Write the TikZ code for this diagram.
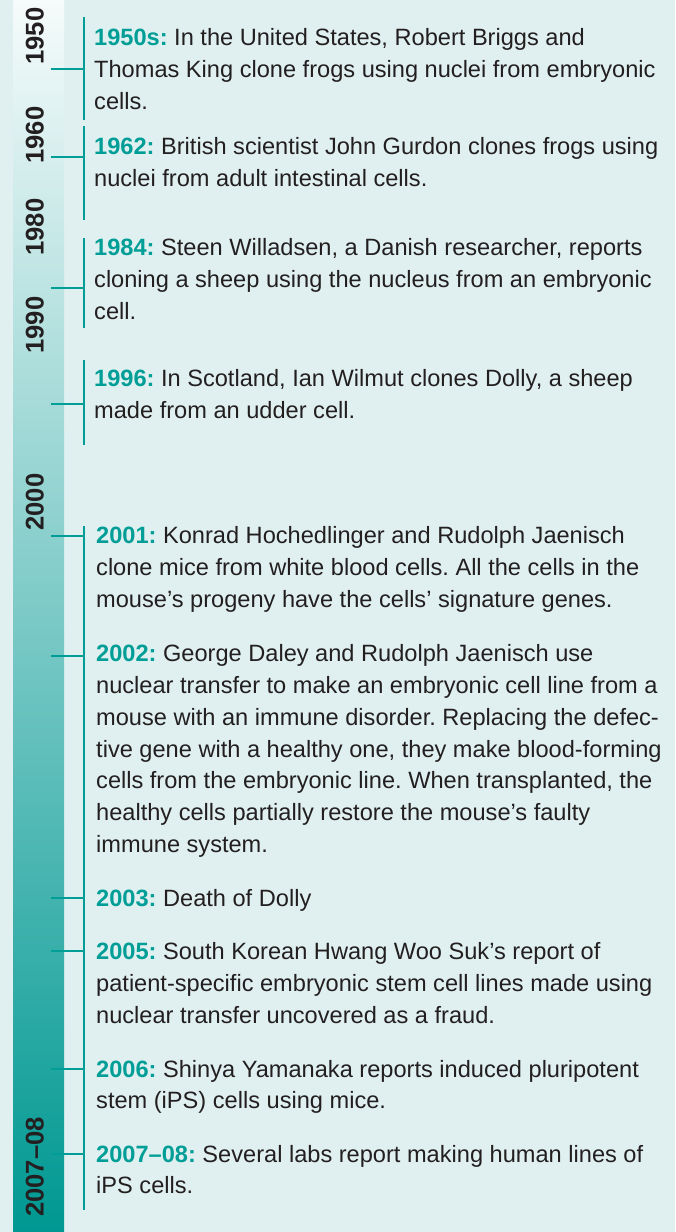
\documentclass[tikz,border=0pt]{standalone}
\usepackage{fontspec}
\setmainfont{Liberation Sans}
\frenchspacing
\definecolor{bg}{RGB}{224,240,240}
\definecolor{teal1}{RGB}{0,158,150}
\definecolor{ink}{RGB}{35,31,32}
\definecolor{bartop}{RGB}{246,251,251}
\definecolor{barmid}{RGB}{118,198,195}
\definecolor{barbot}{RGB}{0,152,146}
\tikzset{
  txt/.style={anchor=base west, inner sep=0pt, font=\fontsize{23.6}{32}\selectfont, text=ink},
  yearlbl/.style={anchor=base, rotate=90, inner sep=0pt, font=\fontsize{25.6}{30}\selectfont\bfseries, text=ink},
  brk/.style={draw=teal1, line width=2.5pt},
}
\newcommand\yr[1]{\textcolor{teal1}{\bfseries #1}}
\begin{document}
\begin{tikzpicture}[x=1pt,y=-1pt]
\useasboundingbox (0,0) rectangle (675,1232);
\fill[bg] (0,0) rectangle (675,1232);
\shade[top color=bartop, middle color=barmid, bottom color=barbot] (13,0) rectangle (64,1232);

% decade labels
\node[yearlbl] (d1950) at (43.5,36) {1950};
\node[yearlbl] (d1960) at (43.5,135) {1960};
\node[yearlbl] (d1980) at (43.5,227) {1980};
\node[yearlbl] (d1990) at (43.5,325) {1990};
\node[yearlbl] (d2000) at (43.5,502) {2000};
\node[yearlbl] (d2007) at (43.5,1167) {2007–08};

% brackets
\coordinate (b1t) at (84,17);  \coordinate (b1b) at (84,120);
\coordinate (k1a) at (51,69);  \coordinate (k1b) at (84,69);
\coordinate (b2t) at (84,126); \coordinate (b2b) at (84,220);
\coordinate (k2a) at (51,157); \coordinate (k2b) at (84,157);
\coordinate (b3t) at (84,238); \coordinate (b3b) at (84,328);
\coordinate (k3a) at (51,288); \coordinate (k3b) at (84,288);
\coordinate (b4t) at (84,360); \coordinate (b4b) at (84,445);
\coordinate (k4a) at (51,404); \coordinate (k4b) at (84,404);
\coordinate (b5t) at (84,526); \coordinate (b5b) at (84,1210);
\coordinate (k5a) at (51,536); \coordinate (k5b) at (84,536);
\coordinate (k6a) at (51,656); \coordinate (k6b) at (84,656);
\coordinate (k7a) at (51,898); \coordinate (k7b) at (84,898);
\coordinate (k8a) at (51,951); \coordinate (k8b) at (84,951);
\coordinate (k9a) at (51,1069); \coordinate (k9b) at (84,1069);
\coordinate (k10a) at (51,1154); \coordinate (k10b) at (84,1154);
\draw[brk] (b1t) -- (b1b); \draw[brk] (k1a) -- (k1b);
\draw[brk] (b2t) -- (b2b); \draw[brk] (k2a) -- (k2b);
\draw[brk] (b3t) -- (b3b); \draw[brk] (k3a) -- (k3b);
\draw[brk] (b4t) -- (b4b); \draw[brk] (k4a) -- (k4b);
\draw[brk] (b5t) -- (b5b); \draw[brk] (k5a) -- (k5b);
\draw[brk] (k6a) -- (k6b); \draw[brk] (k7a) -- (k7b);
\draw[brk] (k8a) -- (k8b); \draw[brk] (k9a) -- (k9b);
\draw[brk] (k10a) -- (k10b);

% entries
\node[txt] (e1a) at (94,45) {\yr{1950s:} In the United States, Robert Briggs and};
\node[txt] (e1b) at (94,77) {Thomas King clone frogs using nuclei from embryonic};
\node[txt] (e1c) at (94,109) {cells.};

\node[txt] (e2a) at (94,154) {\yr{1962:} British scientist John Gurdon clones frogs using};
\node[txt] (e2b) at (94,186) {nuclei from adult intestinal cells.};

\node[txt] (e3a) at (94,255) {\yr{1984:} Steen Willadsen, a Danish researcher, reports};
\node[txt] (e3b) at (94,287) {cloning a sheep using the nucleus from an embryonic};
\node[txt] (e3c) at (94,319) {cell.};

\node[txt] (e4a) at (94,386) {\yr{1996:} In Scotland, Ian Wilmut clones Dolly, a sheep};
\node[txt] (e4b) at (94,418) {made from an udder cell.};

\node[txt] (e5a) at (96,543) {\yr{2001:} Konrad Hochedlinger and Rudolph Jaenisch};
\node[txt] (e5b) at (96,575) {clone mice from white blood cells. All the cells in the};
\node[txt] (e5c) at (96,607) {mouse’s progeny have the cells’ signature genes.};

\node[txt] (e6a) at (96,661) {\yr{2002:} George Daley and Rudolph Jaenisch use};
\node[txt] (e6b) at (96,693) {nuclear transfer to make an embryonic cell line from a};
\node[txt] (e6c) at (96,725) {mouse with an immune disorder. Replacing the defec-};
\node[txt] (e6d) at (96,757) {tive gene with a healthy one, they make blood-forming};
\node[txt] (e6e) at (96,788) {cells from the embryonic line. When transplanted, the};
\node[txt] (e6f) at (96,820) {healthy cells partially restore the mouse’s faulty};
\node[txt] (e6g) at (96,852) {immune system.};

\node[txt] (e7a) at (96,906) {\yr{2003:} Death of Dolly};

\node[txt] (e8a) at (96,959) {\yr{2005:} South Korean Hwang Woo Suk’s report of};
\node[txt] (e8b) at (96,991) {patient-specific embryonic stem cell lines made using};
\node[txt] (e8c) at (96,1023) {nuclear transfer uncovered as a fraud.};

\node[txt] (e9a) at (96,1077) {\yr{2006:} Shinya Yamanaka reports induced pluripotent};
\node[txt] (e9b) at (96,1108) {stem (iPS) cells using mice.};

\node[txt] (e10a) at (96,1162) {\yr{2007–08:} Several labs report making human lines of};
\node[txt] (e10b) at (96,1193) {iPS cells.};
\end{tikzpicture}
\end{document}
